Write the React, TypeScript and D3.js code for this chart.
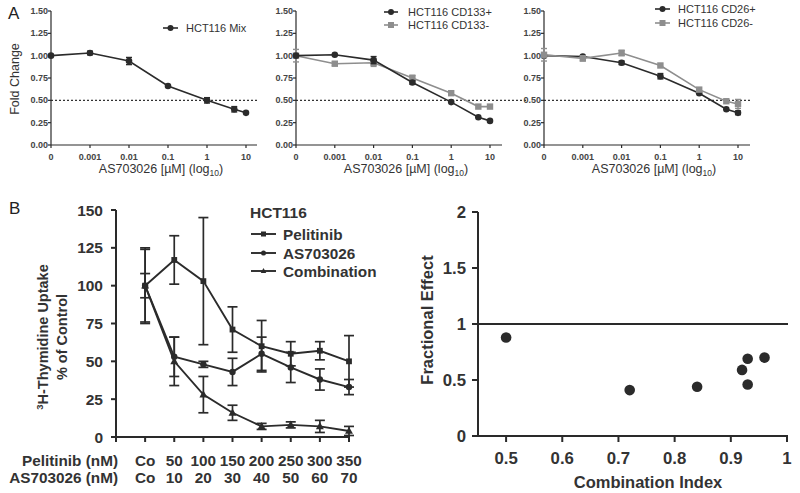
import React from "react";
import * as d3 from "d3";

// ---------- Panel A data ----------
const A_TICKS = [0, 0.001, 0.01, 0.1, 1, 10];
const A_TICK_LABELS = ["0", "0.001", "0.01", "0.1", "1", "10"];
const A_Y_TICKS = [0, 0.25, 0.5, 0.75, 1.0, 1.25, 1.5];
const A_CONC = [0, 0.001, 0.01, 0.1, 1, 5, 10];
const MIX = [1.0, 1.03, 0.94, 0.66, 0.5, 0.4, 0.36];
const MIX_ERR = [0.01, 0.02, 0.04, 0.01, 0.03, 0.03, 0.01];
const CD133P = [1.0, 1.01, 0.95, 0.7, 0.48, 0.31, 0.27];
const CD133P_ERR = [0.01, 0.01, 0.04, 0.02, 0.01, 0.01, 0.01];
const CD133N = [1.0, 0.91, 0.92, 0.75, 0.58, 0.43, 0.43];
const CD133N_ERR = [0.07, 0.02, 0.04, 0.03, 0.01, 0.01, 0.01];
const CD26P = [1.0, 0.99, 0.92, 0.77, 0.58, 0.4, 0.36];
const CD26P_ERR = [0.02, 0.01, 0.02, 0.03, 0.01, 0.01, 0.02];
const CD26N = [1.01, 0.97, 1.03, 0.89, 0.62, 0.49, 0.46];
const CD26N_ERR = [0.07, 0.03, 0.03, 0.01, 0.01, 0.01, 0.05];

// ---------- Panel B left data ----------
const B_PEL_LABELS = ["Co", "50", "100", "150", "200", "250", "300", "350"];
const B_AS_LABELS = ["Co", "10", "20", "30", "40", "50", "60", "70"];
const B_Y_TICKS = [0, 25, 50, 75, 100, 125, 150];
const PEL = [100, 117, 103, 71, 60, 55, 57, 50];
const PEL_ERR = [24, 16, 42, 15, 17, 8, 6, 17];
const ASV = [100, 53, 48, 43, 55, 46, 38, 33];
const ASV_ERR = [8, 13, 2, 9, 11, 10, 7, 5];
const COMB = [100, 50, 28, 16, 7, 8, 7, 4];
const COMB_ERR = [25, 16, 12, 5, 2, 2, 4, 3];

// ---------- Panel B right data ----------
const CI = [0.5, 0.72, 0.84, 0.92, 0.93, 0.93, 0.96];
const FE = [0.88, 0.41, 0.44, 0.59, 0.69, 0.46, 0.7];
const CI_TICKS = [0.5, 0.6, 0.7, 0.8, 0.9, 1];
const FE_TICKS = [0, 0.5, 1, 1.5, 2];

const FONT = "'Liberation Sans', Arial, Helvetica, sans-serif";
const INK = "#2a2a2a";
const BLACK = "#2b2b2b";
const GRAY = "#8e8e8e";

type Series = { vals: number[]; err: number[]; color: string; marker: "circle" | "square"; name: string };

function Marker({ type, x, y, color, s }: { type: string; x: number; y: number; color: string; s: number }) {
  if (type === "circle") return <circle cx={x} cy={y} r={s} fill={color} />;
  if (type === "square") return <rect x={x - s} y={y - s} width={2 * s} height={2 * s} fill={color} />;
  const h = s * 2;
  return <path d={`M${x},${y - h * 0.6} L${x + s * 1.1},${y + h * 0.4} L${x - s * 1.1},${y + h * 0.4} Z`} fill={color} />;
}

function PanelA({ x0, x10, xEnd, dotEnd, series, legend, showTitle }: any) {
  const xs = d3.scaleLinear().domain([-4, 1]).range([x0, x10]);
  const pos = (c: number) => xs(c === 0 ? -4 : Math.log10(c));
  const ys = d3.scaleLinear().domain([0, 1.5]).range([145, 11]);
  const line = d3.line<number>().x((_, i) => pos(A_CONC[i])).y((v) => ys(v));
  return (
    <g>
      <line x1={x0} x2={dotEnd} y1={ys(0.5)} y2={ys(0.5)} stroke="#333" strokeWidth={1.2} strokeDasharray="2,2" />
      <line x1={x0} x2={x0} y1={ys(0)} y2={ys(1.5)} stroke={INK} strokeWidth={1.2} />
      <line x1={x0} x2={xEnd} y1={ys(0)} y2={ys(0)} stroke={INK} strokeWidth={1.2} />
      {A_Y_TICKS.map((t) => (
        <g key={t}>
          <line x1={x0 - 3} x2={x0} y1={ys(t)} y2={ys(t)} stroke={INK} strokeWidth={1.2} />
          <text x={x0 - 3} y={ys(t) + 3} textAnchor="end" fontSize={9} fontWeight="bold" fill="#444">
            {t.toFixed(2)}
          </text>
        </g>
      ))}
      {A_TICKS.map((t, i) => (
        <g key={t}>
          <line x1={pos(t)} x2={pos(t)} y1={ys(0)} y2={ys(0) + 3} stroke={INK} strokeWidth={1.2} />
          <text x={pos(t)} y={160} textAnchor="middle" fontSize={9} fontWeight="bold" fill="#444">
            {A_TICK_LABELS[i]}
          </text>
        </g>
      ))}
      <text x={x0 + 110} y={173} textAnchor="middle" fontSize={12.5} fill="#333">
        <tspan>AS703026 [µM] (log</tspan>
        <tspan fontSize={8.5} dy={3}>10</tspan>
        <tspan dy={-3}>)</tspan>
      </text>
      {showTitle && (
        <text transform={`translate(19,79) rotate(-90)`} textAnchor="middle" fontSize={12.5} fill="#333">
          Fold Change
        </text>
      )}
      {series.map((s: Series) => (
        <g key={s.name}>
          <path d={line(s.vals) || ""} fill="none" stroke={s.color} strokeWidth={1.6} />
          {s.vals.map((v, i) => (
            <g key={i}>
              {s.err[i] > 0.015 && (
                <g stroke={s.color} strokeWidth={1.4}>
                  <line x1={pos(A_CONC[i])} x2={pos(A_CONC[i])} y1={ys(v - s.err[i])} y2={ys(v + s.err[i])} />
                  <line x1={pos(A_CONC[i]) - 3} x2={pos(A_CONC[i]) + 3} y1={ys(v - s.err[i])} y2={ys(v - s.err[i])} />
                  <line x1={pos(A_CONC[i]) - 3} x2={pos(A_CONC[i]) + 3} y1={ys(v + s.err[i])} y2={ys(v + s.err[i])} />
                </g>
              )}
              <Marker type={s.marker} x={pos(A_CONC[i])} y={ys(v)} color={s.color} s={s.marker === "circle" ? 3.3 : 3.2} />
            </g>
          ))}
        </g>
      ))}
      {legend.map((l: any, i: number) => (
        <g key={i}>
          <line x1={l.x1} x2={l.x2} y1={l.y} y2={l.y} stroke={l.s.color} strokeWidth={1.6} />
          <Marker type={l.s.marker} x={(l.x1 + l.x2) / 2} y={l.y} color={l.s.color} s={3} />
          <text x={l.tx} y={l.y + 4} fontSize={11} fill="#333">
            {l.s.name}
          </text>
        </g>
      ))}
    </g>
  );
}

function PanelBLeft() {
  const xs = d3.scaleLinear().domain([-1, 7]).range([116, 349]);
  const ys = d3.scaleLinear().domain([0, 150]).range([437, 210]);
  const line = d3.line<number>().x((_, i) => xs(i)).y((v) => ys(v));
  const series = [
    { vals: PEL, err: PEL_ERR, marker: "square", s: 2.9, name: "Pelitinib" },
    { vals: ASV, err: ASV_ERR, marker: "circle", s: 3.2, name: "AS703026" },
    { vals: COMB, err: COMB_ERR, marker: "triangle", s: 3.6, name: "Combination" },
  ];
  const legendY = [234, 253, 271];
  return (
    <g>
      <line x1={xs(-1)} x2={xs(-1)} y1={ys(0)} y2={ys(150)} stroke={INK} strokeWidth={2} />
      <line x1={xs(-1)} x2={xs(7) + 1} y1={ys(0)} y2={ys(0)} stroke={INK} strokeWidth={2} />
      {B_Y_TICKS.map((t) => (
        <g key={t}>
          <line x1={xs(-1) - 5} x2={xs(-1)} y1={ys(t)} y2={ys(t)} stroke={INK} strokeWidth={2} />
          <text x={103} y={ys(t) + 5.5} textAnchor="end" fontSize={15.5} fontWeight="bold" fill="#333">
            {t}
          </text>
        </g>
      ))}
      {d3.range(-1, 8).map((i) => (
        <line key={i} x1={xs(i)} x2={xs(i)} y1={ys(0)} y2={ys(0) + 5} stroke={INK} strokeWidth={2} />
      ))}
      <text x={118} y={466} textAnchor="end" fontSize={15.3} fontWeight="bold" fill="#333">
        Pelitinib (nM)
      </text>
      <text x={118} y={483} textAnchor="end" fontSize={15.3} fontWeight="bold" fill="#333">
        AS703026 (nM)
      </text>
      {B_PEL_LABELS.map((l, i) => (
        <text key={"p" + i} x={xs(i)} y={466} textAnchor="middle" fontSize={15.3} fontWeight="bold" fill="#333">
          {l}
        </text>
      ))}
      {B_AS_LABELS.map((l, i) => (
        <text key={"a" + i} x={xs(i)} y={483} textAnchor="middle" fontSize={15.3} fontWeight="bold" fill="#333">
          {l}
        </text>
      ))}
      <text transform="translate(48,337) rotate(-90)" textAnchor="middle" fontSize={14.5} fontWeight="bold" fill="#333">
        <tspan fontSize={9.5} dy={-5}>3</tspan>
        <tspan dy={5}>H-Thymidine Uptake</tspan>
      </text>
      <text transform="translate(67,337) rotate(-90)" textAnchor="middle" fontSize={14.5} fontWeight="bold" fill="#333">
        % of Control
      </text>
      {series.map((s) => (
        <g key={s.name}>
          <path d={line(s.vals) || ""} fill="none" stroke={BLACK} strokeWidth={1.9} />
          {s.vals.map((v, i) => (
            <g key={i} stroke={BLACK} strokeWidth={1.7}>
              <line x1={xs(i)} x2={xs(i)} y1={ys(v - s.err[i])} y2={ys(v + s.err[i])} />
              <line x1={xs(i) - 5} x2={xs(i) + 5} y1={ys(v - s.err[i])} y2={ys(v - s.err[i])} />
              <line x1={xs(i) - 5} x2={xs(i) + 5} y1={ys(v + s.err[i])} y2={ys(v + s.err[i])} />
            </g>
          ))}
          {s.vals.map((v, i) => (
            <Marker key={"m" + i} type={s.marker} x={xs(i)} y={ys(v)} color={BLACK} s={s.s} />
          ))}
        </g>
      ))}
      <text x={250} y={218} fontSize={15.5} fontWeight="bold" fill="#333">
        HCT116
      </text>
      {series.map((s, i) => (
        <g key={"lg" + i}>
          <line x1={251} x2={276} y1={legendY[i]} y2={legendY[i]} stroke={BLACK} strokeWidth={1.9} />
          <Marker type={s.marker} x={263.5} y={legendY[i]} color={BLACK} s={2.5} />
          <text x={283} y={legendY[i] + 5.5} fontSize={15.3} fontWeight="bold" fill="#333">
            {s.name}
          </text>
        </g>
      ))}
    </g>
  );
}

function PanelBRight() {
  const xs = d3.scaleLinear().domain([0.45, 1]).range([478, 787]);
  const ys = d3.scaleLinear().domain([0, 2]).range([436, 212]);
  return (
    <g>
      <line x1={xs(0.45)} x2={xs(0.45)} y1={ys(0)} y2={ys(2)} stroke={INK} strokeWidth={2} />
      <line x1={xs(0.45)} x2={xs(1) + 1} y1={ys(0)} y2={ys(0)} stroke={INK} strokeWidth={2} />
      <line x1={xs(0.45)} x2={xs(1) + 1} y1={ys(1)} y2={ys(1)} stroke={INK} strokeWidth={2} />
      {FE_TICKS.map((t) => (
        <g key={t}>
          <line x1={xs(0.45) - 6} x2={xs(0.45)} y1={ys(t)} y2={ys(t)} stroke={INK} strokeWidth={2} />
          <text x={466} y={ys(t) + 6} textAnchor="end" fontSize={16.8} fontWeight="bold" fill="#333">
            {t}
          </text>
        </g>
      ))}
      {CI_TICKS.map((t) => (
        <g key={t}>
          <line x1={xs(t)} x2={xs(t)} y1={ys(0)} y2={ys(0) + 6} stroke={INK} strokeWidth={2} />
          <text x={xs(t)} y={464} textAnchor="middle" fontSize={16.8} fontWeight="bold" fill="#333">
            {t}
          </text>
        </g>
      ))}
      <text x={648} y={488} textAnchor="middle" fontSize={16.5} fontWeight="bold" fill="#333">
        Combination Index
      </text>
      <text transform="translate(433,320) rotate(-90)" textAnchor="middle" fontSize={16.5} fontWeight="bold" fill="#333">
        Fractional Effect
      </text>
      {CI.map((c, i) => (
        <circle key={i} cx={xs(c)} cy={ys(FE[i])} r={5.3} fill={BLACK} />
      ))}
    </g>
  );
}

export default function App() {
  const mix: Series = { vals: MIX, err: MIX_ERR, color: BLACK, marker: "circle", name: "HCT116 Mix" };
  const c133p: Series = { vals: CD133P, err: CD133P_ERR, color: BLACK, marker: "circle", name: "HCT116 CD133+" };
  const c133n: Series = { vals: CD133N, err: CD133N_ERR, color: GRAY, marker: "square", name: "HCT116 CD133-" };
  const c26p: Series = { vals: CD26P, err: CD26P_ERR, color: BLACK, marker: "circle", name: "HCT116 CD26+" };
  const c26n: Series = { vals: CD26N, err: CD26N_ERR, color: GRAY, marker: "square", name: "HCT116 CD26-" };
  return (
    <div style={{ position: "absolute", left: 0, top: 0, width: 800, height: 493, background: "#fff" }}>
      <svg width={800} height={493} style={{ display: "block", fontFamily: FONT }}>
        <rect width={800} height={493} fill="#fff" />
        <text x={8} y={19} fontSize={17} fill="#222">A</text>
        <text x={9} y={214} fontSize={17} fill="#222">B</text>
        <PanelA
          x0={51}
          x10={246}
          xEnd={257}
          dotEnd={258}
          showTitle
          series={[mix]}
          legend={[{ s: mix, x1: 163, x2: 178, tx: 186, y: 28 }]}
        />
        <PanelA
          x0={296}
          x10={490}
          xEnd={502}
          dotEnd={527}
          series={[c133n, c133p]}
          legend={[
            { s: c133p, x1: 384, x2: 398, tx: 408, y: 12 },
            { s: c133n, x1: 384, x2: 398, tx: 408, y: 25 },
          ]}
        />
        <PanelA
          x0={544}
          x10={738}
          xEnd={750}
          dotEnd={752}
          series={[c26p, c26n]}
          legend={[
            { s: c26p, x1: 655, x2: 670, tx: 678, y: 9 },
            { s: c26n, x1: 655, x2: 670, tx: 678, y: 23 },
          ]}
        />
        <PanelBLeft />
        <PanelBRight />
      </svg>
    </div>
  );
}
